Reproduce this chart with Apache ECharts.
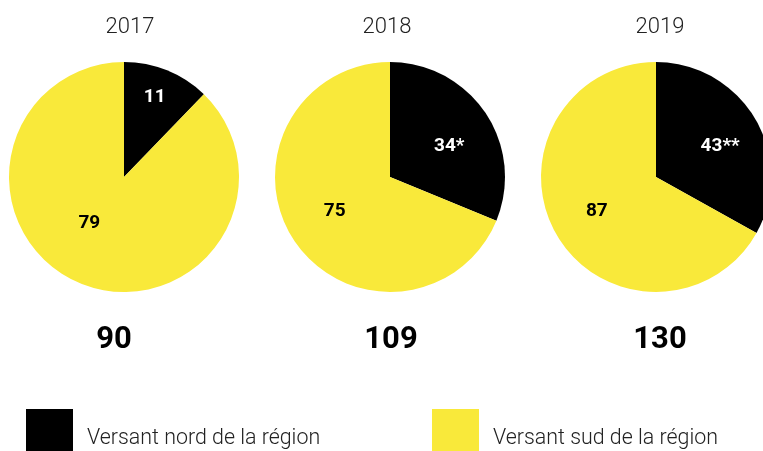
<!DOCTYPE html>
<html>
<head>
<meta charset="utf-8">
<script src="https://cdn.jsdelivr.net/npm/echarts@6/dist/echarts.min.js"></script>
<style>
	html,body{margin:0;padding:0;background:#fff;}
	#chart{width:763px;height:451px;}
</style>
</head>
<body>
<div id="chart"></div>
<script>
// data
var years=['2017','2018','2019'];
var northValues=[11,34,43];
var southValues=[79,75,87];
var northNotes=['','*','**'];
var seriesNames=['Versant nord de la région','Versant sud de la région'];

// layout
var pieCenters=[[124,177],[390,177],[656,177]];
var yearX=[130,387,660];
var totalX=[114,391,660];
// small nudges for the inside labels [north, south]
var labelNudge=[
	[[8,-24],[-12,-10]],
	[[9,3],[-5,1]],
	[[12,0],[-7,4]]
];

var chart=echarts.init(document.getElementById('chart'));

var series=[];
var graphic=[];
for(var i=0;i<years.length;i++){
	series.push({
		type:'pie',
		center:pieCenters[i],
		radius:115,
		startAngle:90,
		clockwise:true,
		silent:true,
		labelLine:{show:false},
		label:{
			show:true,
			position:'inside',
			formatter:'{c}',
			fontFamily:'Roboto',
			fontWeight:'bold',
			fontSize:19
		},
		labelLayout:(function(idx){
			return function(p){
				var n=labelNudge[idx][p.dataIndex];
				return {dx:n[0],dy:n[1]};
			};
		})(i),
		data:[
			{name:seriesNames[0],value:northValues[i],
				label:{color:'#fff',formatter:(function(idx){return function(p){return p.value+northNotes[idx];};})(i)}},
			{name:seriesNames[1],value:southValues[i],label:{color:'#000'}}
		]
	});
	graphic.push({
		type:'text',
		x:yearX[i],
		y:27,
		style:{
			text:years[i],
			textAlign:'center',
			textVerticalAlign:'middle',
			fontFamily:'Roboto',
			fontWeight:300,
			fontSize:22,
			fill:'#222'
		}
	});
	graphic.push({
		type:'text',
		x:totalX[i],
		y:340,
		style:{
			text:String(northValues[i]+southValues[i]),
			textAlign:'center',
			textVerticalAlign:'middle',
			fontFamily:'Roboto',
			fontWeight:'bold',
			fontSize:31,
			fill:'#000'
		}
	});
}

var legendText={fontFamily:'Roboto',fontWeight:300,fontSize:21.4,color:'#222',padding:[0,0,0,9]};
var option={
	animation:false,
	color:['#000000','#f9e93a'],
	legend:[
		{data:[seriesNames[0]],left:26,top:409,padding:0,itemWidth:47,itemHeight:60,icon:'rect',selectedMode:false,textStyle:legendText},
		{data:[seriesNames[1]],left:432,top:409,padding:0,itemWidth:47,itemHeight:60,icon:'rect',selectedMode:false,textStyle:legendText}
	],
	graphic:graphic,
	series:series
};
chart.setOption(option);
</script>
</body>
</html>
